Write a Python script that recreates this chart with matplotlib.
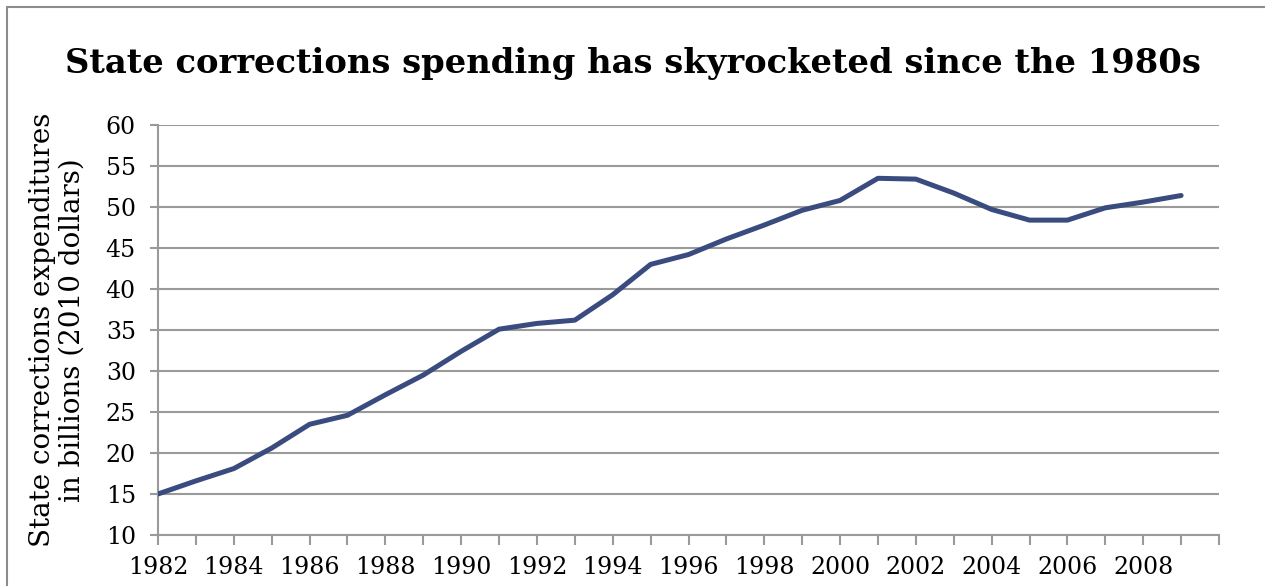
import matplotlib
matplotlib.use('Agg')
import matplotlib.pyplot as plt
from matplotlib.patches import Rectangle

years = list(range(1982, 2010))
spending = [15.0, 16.6, 18.1, 20.6, 23.5, 24.6, 27.1, 29.5, 32.4, 35.1, 35.8, 36.2,
            39.3, 43.0, 44.2, 46.1, 47.8, 49.6, 50.8, 53.5, 53.4, 51.7, 49.7, 48.4,
            48.4, 49.9, 50.6, 51.4]
tick_years = list(range(1982, 2011))
year_labels = [str(y) if y % 2 == 0 and y < 2010 else '' for y in tick_years]
y_ticks = list(range(10, 61, 5))

title = 'State corrections spending has skyrocketed since the 1980s'
ylabel = 'State corrections expenditures\nin billions (2010 dollars)'

line_color = '#3A4C7F'
grid_color = '#9A9A9A'
font = 'DejaVu Serif'

fig = plt.figure(figsize=(12.65, 5.86), dpi=100)
W, H = 1265, 586

# outer chart border, like the Excel chart frame
fig.patches.append(Rectangle((7 / W, -0.1), 1.2, (586 - 7) / H + 0.1, transform=fig.transFigure,
                             fill=False, edgecolor='#8C8C8C', linewidth=1.5))

left, right, top, bottom = 158, 1219, 125, 535
ax = fig.add_axes([left / W, 1 - bottom / H, (right - left) / W, (bottom - top) / H])

ax.plot(years, spending, color=line_color, linewidth=3.6, solid_joinstyle='round',
        solid_capstyle='round', zorder=3)

ax.set_xlim(1982, 2010)
ax.set_ylim(10, 60)
ax.set_yticks(y_ticks)
ax.set_xticks(tick_years)
ax.set_xticklabels(year_labels)
ax.yaxis.grid(True, color=grid_color, linewidth=1.5)
ax.set_axisbelow(True)

for side in ['top', 'right']:
    ax.spines[side].set_visible(False)
for side in ['left', 'bottom']:
    ax.spines[side].set_color(grid_color)
    ax.spines[side].set_linewidth(1.5)

ax.tick_params(axis='both', colors=grid_color, width=1.5, length=6, labelcolor='black',
               labelsize=17)
ax.tick_params(axis='x', direction='out', length=7, pad=8)
ax.tick_params(axis='y', direction='out', pad=10)
for lab in ax.get_xticklabels() + ax.get_yticklabels():
    lab.set_fontfamily(font)

ax.set_ylabel(ylabel, fontsize=20, family=font, linespacing=1.15)
ax.yaxis.set_label_coords(-0.068, 0.5)

fig.text(0.5, 1 - 64 / H, title, ha='center', va='center', fontsize=24.3, fontweight='bold',
         family=font)

fig.savefig('out.png', dpi=100)
